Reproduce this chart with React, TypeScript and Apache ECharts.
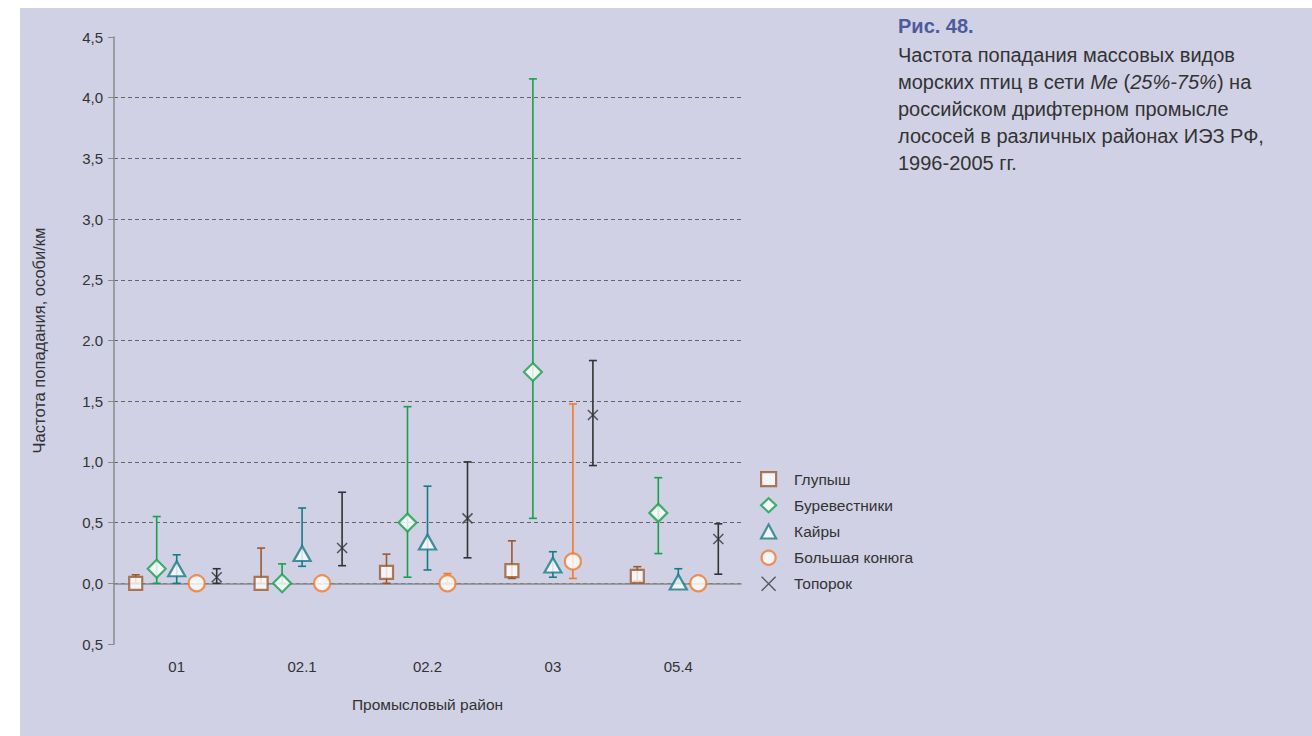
import React, { useEffect, useRef } from "react";
import * as echarts from "echarts";

const categories = ["01", "02.1", "02.2", "03", "05.4"];
const yTickLabels = ["0,5", "0,0", "0,5", "1,0", "1,5", "2.0", "2,5", "3,0", "3,5", "4,0", "4,5"];
const speciesNames = ["Глупыш", "Буревестники", "Кайры", "Большая конюга", "Топорок"];

// median (Me) and quartiles (25%, 75%) per species per area
const fulmarMe = [0, 0, 0.09, 0.105, 0.057];
const fulmarLo = [0, 0, 0, 0.04, 0.02];
const fulmarHi = [0.07, 0.29, 0.24, 0.35, 0.137];

const shearwaterMe = [0.12, 0, 0.5, 1.74, 0.58];
const shearwaterLo = [0, 0, 0.05, 0.535, 0.245];
const shearwaterHi = [0.55, 0.16, 1.455, 4.155, 0.87];

const murreMe = [0.12, 0.245, 0.34, 0.15, 0.01];
const murreLo = [0, 0.14, 0.11, 0.05, 0];
const murreHi = [0.235, 0.62, 0.8, 0.26, 0.12];

const auklerMe = [0, 0, 0, 0.18, 0];
const auklerLo = [0, 0, 0, 0.04, 0];
const auklerHi = [0, 0, 0.08, 1.477, 0];

const puffinMe = [0.05, 0.29, 0.535, 1.386, 0.365];
const puffinLo = [0, 0.145, 0.21, 0.97, 0.075];
const puffinHi = [0.12, 0.75, 1.0, 1.835, 0.49];

const meArrays = [fulmarMe, shearwaterMe, murreMe, auklerMe, puffinMe];
const loArrays = [fulmarLo, shearwaterLo, murreLo, auklerLo, puffinLo];
const hiArrays = [fulmarHi, shearwaterHi, murreHi, auklerHi, puffinHi];

const colors = ["#9b5a2e", "#17a04b", "#167b86", "#f07a2c", "#333333"];
const symbols = ["rect", "diamond", "triangle", "circle", "path://M0,0L10,10M10,0L0,10"];
const symbolSizes = [[13, 13], [18, 18], [17, 15], [16, 16], [10, 10]];
const offsets = [-41, -20, 0, 20, 40];

const FONT = "'Liberation Sans', Arial, sans-serif";
const NARROW = "'Liberation Sans Narrow', 'Liberation Sans', Arial, sans-serif";

export default function App() {
  const ref = useRef<HTMLDivElement>(null);
  useEffect(() => {
    if (!ref.current) return;
    const chart = echarts.init(ref.current, null, { renderer: "svg" });

    const series: any[] = [];
    speciesNames.forEach((name, k) => {
      const off = offsets[k];
      const col = colors[k];
      series.push({
        name: name + "_err",
        type: "custom",
        z: 2,
        silent: true,
        data: categories.map((_, i) => [i, loArrays[k][i], hiArrays[k][i]]),
        renderItem: (params: any, api: any) => {
          const i = api.value(0);
          const lo = api.value(1);
          const hi = api.value(2);
          if (hi - lo <= 0) return { type: "group", children: [] };
          const p1 = api.coord([i, lo]);
          const p2 = api.coord([i, hi]);
          const x = p1[0] + off;
          const cap = 4;
          const st = { stroke: col, lineWidth: 1.6 };
          return {
            type: "group",
            children: [
              { type: "line", shape: { x1: x, y1: p1[1], x2: x, y2: p2[1] }, style: st },
              { type: "line", shape: { x1: x - cap, y1: p1[1], x2: x + cap, y2: p1[1] }, style: st },
              { type: "line", shape: { x1: x - cap, y1: p2[1], x2: x + cap, y2: p2[1] }, style: st },
            ],
          };
        },
      });
      series.push({
        name,
        type: "scatter",
        z: 3,
        symbol: symbols[k],
        symbolSize: symbolSizes[k],
        symbolOffset: [off, 0],
        itemStyle:
          k === 4
            ? { color: col, borderColor: col, borderWidth: 1.5 }
            : { color: "#ffffff", borderColor: col, borderWidth: 2.2 },
        data: categories.map((_, i) => [i, meArrays[k][i]]),
      });
    });

    chart.setOption({
      animation: false,
      backgroundColor: "transparent",
      textStyle: { fontFamily: FONT },
      grid: { left: 114, right: 571, top: 37, bottom: 92 },
      legend: {
        orient: "vertical",
        left: 760,
        top: 471,
        padding: 0,
        itemGap: 10,
        itemWidth: 15,
        itemHeight: 14,
        data: speciesNames.map((n, k) => ({
          name: n,
          itemStyle:
            k === 4
              ? { color: colors[k], borderColor: colors[k], borderWidth: 1.3 }
              : { color: "#ffffff", borderColor: colors[k], borderWidth: 2.2 },
        })),
        textStyle: { fontSize: 15.5, color: "#333", fontFamily: FONT, padding: [0, 0, 0, 13] },
      },
      xAxis: {
        type: "category",
        data: categories,
        name: "Промысловый район",
        nameLocation: "middle",
        nameGap: 52,
        nameTextStyle: { fontSize: 15.5, color: "#333", fontFamily: FONT },
        axisLine: { lineStyle: { color: "#8a8a8a", width: 1.5 } },
        axisTick: { alignWithLabel: true, length: 4, lineStyle: { color: "#8a8a8a" } },
        axisLabel: { fontSize: 15, color: "#333", margin: 15 },
        splitLine: { show: false },
      },
      yAxis: {
        type: "value",
        min: -0.5,
        max: 4.5,
        interval: 0.5,
        name: "Частота попадания, особи/км",
        nameLocation: "middle",
        nameGap: 67,
        nameRotate: 90,
        nameTextStyle: { fontSize: 16.5, color: "#333", fontFamily: FONT },
        axisLine: { show: true, lineStyle: { color: "#8a8a8a", width: 1.5 } },
        axisTick: { show: true, length: 6, lineStyle: { color: "#8a8a8a" } },
        axisLabel: {
          fontSize: 15,
          color: "#333",
          margin: 11,
          formatter: (v: number) => yTickLabels[Math.round((v + 0.5) / 0.5)] ?? "",
        },
        splitLine: {
          show: true,
          showMinLine: false,
          showMaxLine: false,
          lineStyle: { color: "#666666", type: [4, 3], width: 1 },
        },
      },
      graphic: [
        {
          type: "rect",
          z: -10,
          shape: { x: 20, y: 8, width: 1292, height: 728 },
          style: { fill: "#d0d1e5" },
        },
        {
          type: "text",
          x: 898,
          y: 16,
          style: {
            text: "Рис. 48.",
            font: `bold 20px ${NARROW}`,
            fill: "#4c5b9b",
          },
        },
        {
          type: "text",
          x: 898,
          y: 41,
          style: {
            text:
              "Частота попадания массовых видов\n" +
              "морских птиц в сети {i|Me} ({i|25%-75%}) на\n" +
              "российском дрифтерном промысле\n" +
              "лососей в различных районах ИЭЗ РФ,\n" +
              "1996-2005 гг.",
            font: `20px ${NARROW}`,
            fill: "#333333",
            lineHeight: 27,
            rich: {
              i: { font: `italic 20px ${NARROW}`, fill: "#333333", lineHeight: 27 },
            },
          },
        },
      ],
      series,
    });
    return () => chart.dispose();
  }, []);
  return (
    <div
      ref={ref}
      style={{ position: "fixed", left: 0, top: 0, width: 1312, height: 736, background: "#ffffff" }}
    />
  );
}
